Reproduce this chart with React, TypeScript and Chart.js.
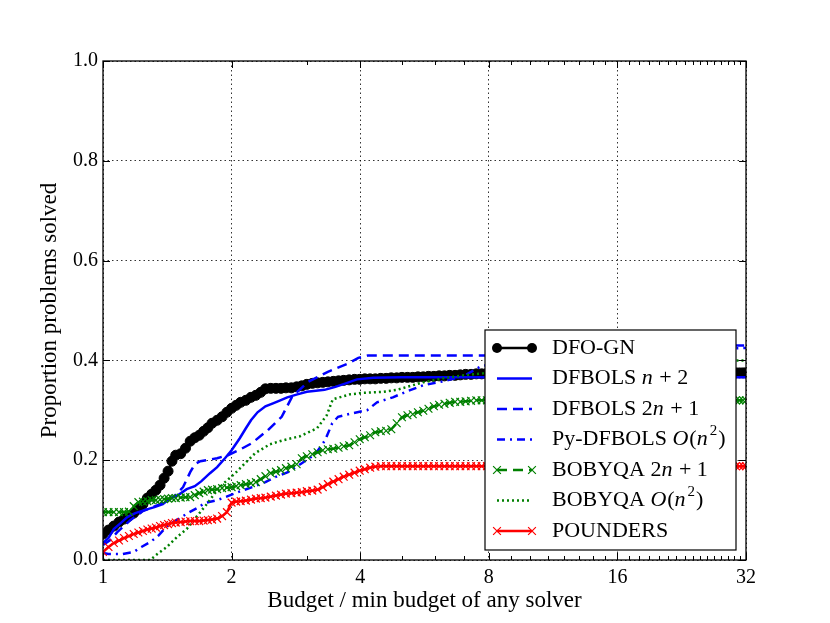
import React, { useEffect, useRef } from "react";
import { Chart, registerables } from "chart.js";

Chart.register(...registerables);

const FONT = "'Liberation Serif', 'Times New Roman', serif";

const seriesNames = [
  "DFO-GN",
  "DFBOLS n+2",
  "DFBOLS 2n+1",
  "Py-DFBOLS O(n^2)",
  "BOBYQA 2n+1",
  "BOBYQA O(n^2)",
  "POUNDERS",
];

const xMajorTicks = [1, 2, 4, 8, 16, 32];
const xMinorTicks = [3, 5, 6, 7, 9, 10, 11, 12, 13, 14, 15, 17, 18, 19, 20, 21, 22, 23, 24, 25, 26, 27, 28, 29, 30, 31];
const yTicks = [0, 0.2, 0.4, 0.6, 0.8, 1.0];

// shared budget grid for the marker series (DFO-GN, BOBYQA 2n+1, POUNDERS)
const budgetGrid = [
  1.0, 1.03, 1.06, 1.09, 1.12, 1.15, 1.18, 1.21, 1.24, 1.27,
  1.3, 1.33, 1.36, 1.39, 1.42, 1.45, 1.48, 1.52, 1.56, 1.6,
  1.64, 1.68, 1.72, 1.76, 1.8, 1.85, 1.9, 1.95, 2.0, 2.05,
  2.1, 2.16, 2.22, 2.28, 2.34, 2.4, 2.47, 2.54, 2.61, 2.68,
  2.76, 2.84, 2.92, 3.0, 3.09, 3.18, 3.27, 3.36, 3.46, 3.56,
  3.66, 3.77, 3.88, 3.99, 4.1, 4.22, 4.34, 4.47, 4.6, 4.73,
  4.87, 5.01, 5.16, 5.31, 5.46, 5.62, 5.78, 5.95, 6.12, 6.3,
  6.48, 6.67, 6.86, 7.06, 7.27, 7.48, 7.7, 7.92, 8.15, 10,
  14, 20, 26, 30.3, 30.9, 31.5, 32,
];

const dfoGnY = [
  0.052, 0.06, 0.068, 0.076, 0.082, 0.088, 0.094, 0.102, 0.112, 0.124,
  0.132, 0.14, 0.15, 0.164, 0.178, 0.198, 0.21, 0.213, 0.224, 0.238,
  0.245, 0.25, 0.258, 0.265, 0.274, 0.28, 0.287, 0.296, 0.304, 0.31,
  0.316, 0.32, 0.326, 0.33, 0.336, 0.343, 0.344, 0.344, 0.344, 0.345,
  0.345, 0.347, 0.349, 0.352, 0.354, 0.355, 0.356, 0.357, 0.358, 0.359,
  0.36, 0.361, 0.362, 0.362, 0.363, 0.363, 0.363, 0.364, 0.364, 0.365,
  0.365, 0.366, 0.366, 0.366, 0.367, 0.367, 0.368, 0.368, 0.369, 0.369,
  0.37, 0.37, 0.371, 0.372, 0.372, 0.373, 0.373, 0.374, 0.374, 0.375,
  0.375, 0.375, 0.375, 0.375, 0.375, 0.375, 0.375,
];

const bobyqa2n1Y = [
  0.096, 0.096, 0.096, 0.096, 0.096, 0.097, 0.108, 0.116, 0.117, 0.118,
  0.12, 0.12, 0.121, 0.122, 0.123, 0.124, 0.124, 0.125, 0.126, 0.126,
  0.13, 0.134, 0.137, 0.14, 0.141, 0.142, 0.144, 0.145, 0.146, 0.148,
  0.15, 0.152, 0.154, 0.156, 0.162, 0.168, 0.174, 0.177, 0.18, 0.184,
  0.187, 0.192, 0.204, 0.208, 0.212, 0.216, 0.22, 0.222, 0.223, 0.225,
  0.228, 0.23, 0.236, 0.242, 0.246, 0.25, 0.256, 0.258, 0.259, 0.262,
  0.274, 0.286, 0.29, 0.292, 0.296, 0.299, 0.303, 0.308, 0.311, 0.313,
  0.315, 0.317, 0.317, 0.318, 0.319, 0.32, 0.32, 0.32, 0.32, 0.32,
  0.32, 0.32, 0.32, 0.32, 0.32, 0.32, 0.32,
];

const poundersY = [
  0.016, 0.026, 0.034, 0.039, 0.044, 0.048, 0.052, 0.055, 0.058, 0.061,
  0.063, 0.065, 0.068, 0.07, 0.072, 0.074, 0.075, 0.076, 0.077, 0.078,
  0.078, 0.078, 0.079, 0.08, 0.081, 0.083, 0.088, 0.096, 0.115, 0.117,
  0.118, 0.119, 0.121, 0.123, 0.124, 0.125, 0.127, 0.129, 0.131, 0.133,
  0.134, 0.135, 0.136, 0.138, 0.139, 0.141, 0.146, 0.152, 0.157, 0.162,
  0.167, 0.171, 0.175, 0.179, 0.182, 0.185, 0.187, 0.188, 0.188, 0.188,
  0.188, 0.188, 0.188, 0.188, 0.188, 0.188, 0.188, 0.188, 0.188, 0.188,
  0.188, 0.188, 0.188, 0.188, 0.188, 0.188, 0.188, 0.188, 0.188, 0.188,
  0.188, 0.188, 0.188, 0.188, 0.188, 0.188, 0.188,
];

const dfbolsN2X = [1.0, 1.03, 1.06, 1.1, 1.14, 1.19, 1.25, 1.32, 1.38, 1.44, 1.5, 1.57, 1.64, 1.7, 1.78, 1.85, 1.93, 2.0, 2.09, 2.16, 2.22, 2.3, 2.4, 2.5, 2.6, 2.7, 2.85, 3.0, 3.15, 3.3, 3.5, 3.7, 3.93, 4.3, 5.0, 6.0, 7.75, 12, 32];
const dfbolsN2Y = [0.034, 0.044, 0.062, 0.074, 0.086, 0.094, 0.1, 0.106, 0.112, 0.124, 0.13, 0.142, 0.148, 0.158, 0.174, 0.186, 0.204, 0.22, 0.244, 0.264, 0.28, 0.296, 0.308, 0.314, 0.32, 0.326, 0.332, 0.337, 0.339, 0.341, 0.347, 0.354, 0.362, 0.365, 0.366, 0.366, 0.366, 0.366, 0.366];

const dfbols2n1X = [1.0, 1.04, 1.08, 1.16, 1.24, 1.36, 1.46, 1.54, 1.6, 1.64, 1.69, 1.85, 1.96, 2.1, 2.23, 2.43, 2.62, 2.77, 3.02, 3.36, 3.75, 3.96, 4.17, 5.0, 6.5, 7.9, 9, 12, 32];
const dfbols2n1Y = [0.03, 0.04, 0.056, 0.08, 0.098, 0.112, 0.126, 0.146, 0.176, 0.192, 0.198, 0.204, 0.21, 0.222, 0.234, 0.26, 0.287, 0.327, 0.357, 0.377, 0.394, 0.405, 0.41, 0.41, 0.41, 0.41, 0.42, 0.428, 0.43];

const pyDfbolsX = [1.0, 1.03, 1.11, 1.18, 1.23, 1.29, 1.345, 1.42, 1.5, 1.58, 1.66, 1.73, 1.85, 1.96, 2.1, 2.27, 2.4, 2.53, 2.71, 2.92, 3.14, 3.31, 3.44, 3.55, 3.83, 4.15, 4.38, 4.77, 5.15, 5.61, 6.25, 6.96, 7.63, 8.3, 12, 20, 32];
const pyDfbolsY = [0.014, 0.012, 0.012, 0.016, 0.026, 0.036, 0.048, 0.07, 0.082, 0.094, 0.104, 0.114, 0.12, 0.128, 0.138, 0.148, 0.156, 0.166, 0.176, 0.194, 0.212, 0.24, 0.274, 0.287, 0.294, 0.3, 0.316, 0.326, 0.338, 0.35, 0.358, 0.368, 0.387, 0.395, 0.41, 0.42, 0.425];

const bobyqaOn2X = [1.0, 1.2, 1.29, 1.34, 1.41, 1.49, 1.57, 1.66, 1.75, 1.85, 1.93, 2.04, 2.15, 2.27, 2.46, 2.64, 2.89, 3.17, 3.34, 3.45, 3.79, 4.06, 4.52, 4.88, 5.15, 5.61, 6.25, 6.96, 7.75, 10, 16, 32];
const bobyqaOn2Y = [0.0, 0.0, 0.0, 0.012, 0.026, 0.046, 0.062, 0.088, 0.112, 0.14, 0.156, 0.174, 0.194, 0.214, 0.232, 0.24, 0.248, 0.264, 0.29, 0.322, 0.332, 0.335, 0.337, 0.341, 0.347, 0.356, 0.364, 0.37, 0.374, 0.385, 0.395, 0.4];

const seriesX = [budgetGrid, dfbolsN2X, dfbols2n1X, pyDfbolsX, budgetGrid, bobyqaOn2X, budgetGrid];
const seriesY = [dfoGnY, dfbolsN2Y, dfbols2n1Y, pyDfbolsY, bobyqa2n1Y, bobyqaOn2Y, poundersY];

type Seg = { t: string; it?: boolean; sup?: boolean };
const legendParts: Seg[][] = [
  [{ t: "DFO-GN" }],
  [{ t: "DFBOLS " }, { t: "n", it: true }, { t: " + 2" }],
  [{ t: "DFBOLS 2" }, { t: "n", it: true }, { t: " + 1" }],
  [{ t: "Py-DFBOLS " }, { t: "O", it: true }, { t: "(" }, { t: "n", it: true }, { t: "2", sup: true }, { t: ")" }],
  [{ t: "BOBYQA 2" }, { t: "n", it: true }, { t: " + 1" }],
  [{ t: "BOBYQA " }, { t: "O", it: true }, { t: "(" }, { t: "n", it: true }, { t: "2", sup: true }, { t: ")" }],
  [{ t: "POUNDERS" }],
];

type Style = { color: string; dash: number[]; marker: "none" | "circle" | "crossRot"; width: number };
const styles: Style[] = [
  { color: "#000000", dash: [], marker: "circle", width: 2.5 },
  { color: "#0000ff", dash: [], marker: "none", width: 2.5 },
  { color: "#0000ff", dash: [10, 6], marker: "none", width: 2.5 },
  { color: "#0000ff", dash: [8, 5, 2, 5], marker: "none", width: 2.5 },
  { color: "#008000", dash: [10, 6], marker: "crossRot", width: 2.5 },
  { color: "#008000", dash: [2, 3], marker: "none", width: 2.5 },
  { color: "#ff0000", dash: [], marker: "crossRot", width: 2.5 },
];

function drawMarker(ctx: CanvasRenderingContext2D, s: Style, x: number, y: number) {
  if (s.marker === "circle") {
    ctx.beginPath();
    ctx.setLineDash([]);
    ctx.fillStyle = s.color;
    ctx.arc(x, y, 5, 0, Math.PI * 2);
    ctx.fill();
  } else if (s.marker === "crossRot") {
    const o = 5.5 * Math.SQRT1_2;
    ctx.beginPath();
    ctx.setLineDash([]);
    ctx.strokeStyle = s.color;
    ctx.lineWidth = 1.2;
    ctx.moveTo(x - o, y - o);
    ctx.lineTo(x + o, y + o);
    ctx.moveTo(x - o, y + o);
    ctx.lineTo(x + o, y - o);
    ctx.stroke();
  }
}

const decorPlugin = {
  id: "mplDecor",
  afterDraw(chart: any) {
    const { ctx, chartArea: a, scales } = chart;
    const xs = scales.x;
    const ys = scales.y;
    ctx.save();
    ctx.setLineDash([]);
    ctx.strokeStyle = "#000";
    ctx.lineWidth = 1;
    ctx.beginPath();
    for (const v of xMajorTicks) {
      const px = Math.round(xs.getPixelForValue(v)) + 0.5;
      ctx.moveTo(px, a.bottom);
      ctx.lineTo(px, a.bottom - 7);
      ctx.moveTo(px, a.top);
      ctx.lineTo(px, a.top + 7);
    }
    for (const v of xMinorTicks) {
      const px = Math.round(xs.getPixelForValue(v)) + 0.5;
      ctx.moveTo(px, a.bottom);
      ctx.lineTo(px, a.bottom - 4);
      ctx.moveTo(px, a.top);
      ctx.lineTo(px, a.top + 4);
    }
    for (const v of yTicks) {
      const py = Math.round(ys.getPixelForValue(v)) + 0.5;
      ctx.moveTo(a.left, py);
      ctx.lineTo(a.left + 7, py);
      ctx.moveTo(a.right, py);
      ctx.lineTo(a.right - 7, py);
    }
    ctx.stroke();
    ctx.lineWidth = 1.3;
    ctx.strokeRect(a.left, a.top, a.right - a.left, a.bottom - a.top);

    // legend
    const lw = 251;
    const lh = 220;
    const lx = a.right - 10 - lw;
    const ly = a.bottom - 10 - lh;
    ctx.fillStyle = "#ffffff";
    ctx.fillRect(lx, ly, lw, lh);
    ctx.lineWidth = 1.2;
    ctx.strokeStyle = "#000";
    ctx.strokeRect(lx, ly, lw, lh);
    const rowH = 30.5;
    for (let i = 0; i < styles.length; i++) {
      const s = styles[i];
      const cy = ly + 18 + i * rowH;
      const x0 = lx + 12;
      const x1 = lx + 47;
      ctx.beginPath();
      ctx.setLineDash(s.dash);
      ctx.strokeStyle = s.color;
      ctx.lineWidth = s.width;
      ctx.moveTo(x0, cy);
      ctx.lineTo(x1, cy);
      ctx.stroke();
      drawMarker(ctx, s, x0, cy);
      drawMarker(ctx, s, x1, cy);
      let tx = lx + 67;
      ctx.fillStyle = "#000";
      ctx.textBaseline = "middle";
      ctx.textAlign = "left";
      for (const seg of legendParts[i]) {
        if (seg.sup) {
          ctx.font = `15px ${FONT}`;
          ctx.fillText(seg.t, tx + 1, cy - 8);
          tx += ctx.measureText(seg.t).width + 2;
        } else {
          ctx.font = `${seg.it ? "italic " : ""}22px ${FONT}`;
          ctx.fillText(seg.t, tx, cy);
          tx += ctx.measureText(seg.t).width + (seg.it ? 1 : 0);
        }
      }
    }
    ctx.restore();
  },
};

export default function App() {
  const ref = useRef<HTMLCanvasElement>(null);
  useEffect(() => {
    const canvas = ref.current;
    if (!canvas) return;
    const datasets = seriesNames.map((name, i) => {
      const s = styles[i];
      return {
        label: name,
        data: seriesX[i].map((x, j) => ({ x, y: seriesY[i][j] })),
        borderColor: s.color,
        backgroundColor: s.color,
        borderWidth: s.width,
        borderDash: s.dash,
        pointStyle: s.marker === "none" ? "circle" : s.marker,
        pointRadius: s.marker === "none" ? 0 : s.marker === "circle" ? 5 : 5.5,
        pointBorderWidth: s.marker === "crossRot" ? 1.2 : 1,
        pointBorderColor: s.color,
        pointBackgroundColor: s.marker === "crossRot" ? "rgba(0,0,0,0)" : s.color,
        pointHoverRadius: 0,
        tension: 0,
        fill: false,
        order: styles.length - i,
      };
    });
    const chart = new Chart(canvas, {
      type: "line",
      data: { datasets },
      plugins: [decorPlugin],
      options: {
        animation: false,
        responsive: false,
        maintainAspectRatio: false,
        events: [],
        layout: { padding: { left: 0, top: 61, right: 84, bottom: 0 } },
        plugins: { legend: { display: false }, tooltip: { enabled: false } },
        scales: {
          x: {
            type: "logarithmic",
            min: 1,
            max: 32,
            afterBuildTicks: (scale: any) => {
              scale.ticks = xMajorTicks.map((v) => ({ value: v }));
            },
            afterFit: (scale: any) => {
              scale.height = 63;
            },
            ticks: {
              autoSkip: false,
              maxRotation: 0,
              padding: 6,
              color: "#000",
              font: { family: FONT, size: 20 },
              callback: (v: any) => String(v),
            },
            grid: { display: true, drawTicks: false, color: "rgba(0,0,0,0.8)", lineWidth: 1 },
            border: { display: false, dash: [1.5, 3] },
            title: {
              display: true,
              text: "Budget / min budget of any solver",
              color: "#000",
              font: { family: FONT, size: 23 },
              padding: { top: 0, bottom: 8 },
            },
          },
          y: {
            type: "linear",
            min: 0,
            max: 1,
            afterBuildTicks: (scale: any) => {
              scale.ticks = yTicks.map((v) => ({ value: v }));
            },
            afterFit: (scale: any) => {
              scale.width = 103;
            },
            ticks: {
              padding: 5,
              color: "#000",
              font: { family: FONT, size: 20 },
              callback: (v: any) => Number(v).toFixed(1),
            },
            grid: { display: true, drawTicks: false, color: "rgba(0,0,0,0.8)", lineWidth: 1 },
            border: { display: false, dash: [1.5, 3] },
            title: {
              display: true,
              text: "Proportion problems solved",
              color: "#000",
              font: { family: FONT, size: 23 },
              padding: { top: 36, bottom: 0 },
            },
          },
        },
      } as any,
    } as any);
    return () => chart.destroy();
  }, []);
  return (
    <div style={{ position: "absolute", left: 0, top: 0, width: 830, height: 623, background: "#fff" }}>
      <canvas ref={ref} width={830} height={623} style={{ display: "block", width: 830, height: 623 }} />
    </div>
  );
}
